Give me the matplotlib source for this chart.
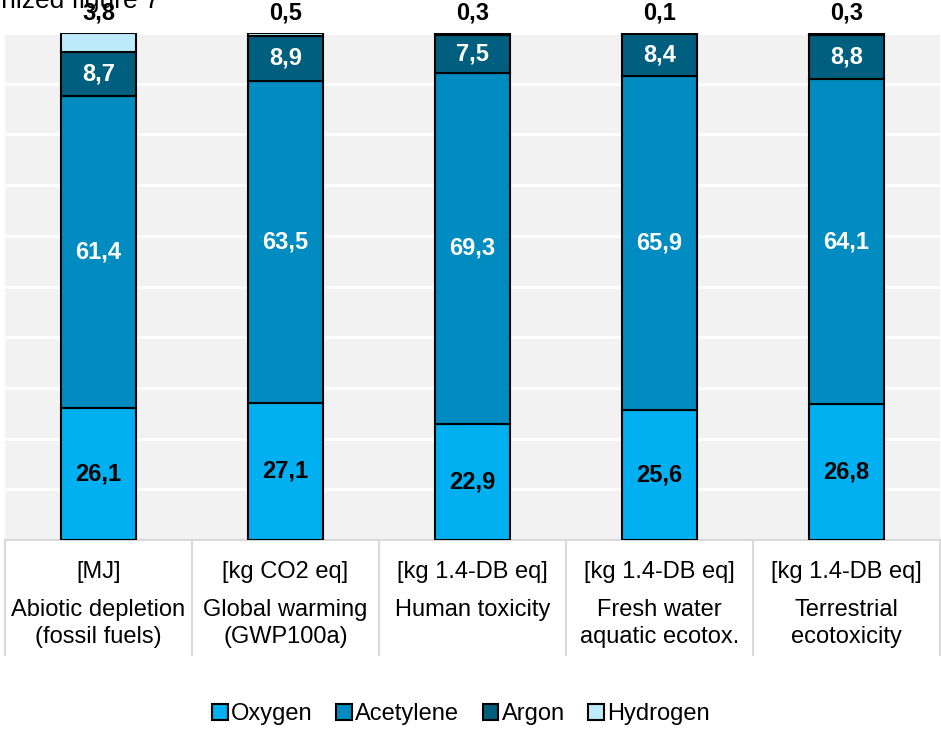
import numpy as np
import matplotlib.pyplot as plt

plt.rcParams['font.family'] = ['Liberation Sans', 'DejaVu Sans']

units = ['[MJ]', '[kg CO2 eq]', '[kg 1.4-DB eq]', '[kg 1.4-DB eq]', '[kg 1.4-DB eq]']
categories = ['Abiotic depletion\n(fossil fuels)', 'Global warming\n(GWP100a)',
              'Human toxicity', 'Fresh water\naquatic ecotox.', 'Terrestrial\necotoxicity']
oxygen = [26.1, 27.1, 22.9, 25.6, 26.8]
acetylene = [61.4, 63.5, 69.3, 65.9, 64.1]
argon = [8.7, 8.9, 7.5, 8.4, 8.8]
hydrogen = [3.8, 0.5, 0.3, 0.1, 0.3]

series = [('Oxygen', oxygen, '#00B0F0', 'black'),
          ('Acetylene', acetylene, '#008CC0', 'white'),
          ('Argon', argon, '#005F7E', 'white'),
          ('Hydrogen', hydrogen, '#BDEBFA', None)]

fig = plt.figure(figsize=(9.41, 7.33), dpi=100)
ax = fig.add_axes([5 / 941, 1 - 540 / 733, 935 / 941, 507 / 733])
ax.set_facecolor('#F2F2F2')

x = np.arange(len(categories))
bottom = np.zeros(len(categories))
for name, vals, col, tcol in series:
    vals = np.array(vals)
    ax.bar(x, vals, 0.4, bottom=bottom, color=col, edgecolor='black',
           linewidth=1.5, label=name, zorder=3)
    for i, v in enumerate(vals):
        if tcol is None:
            ax.text(x[i], 104, f'{v:.1f}'.replace('.', ','), ha='center',
                    va='center', fontsize=17, fontweight='bold', color='black',
                    clip_on=False)
        else:
            ax.text(x[i], bottom[i] + v / 2, f'{v:.1f}'.replace('.', ','),
                    ha='center', va='center', fontsize=17, fontweight='bold',
                    color=tcol, zorder=4)
    bottom += vals

ax.set_xlim(-0.5, len(categories) - 0.5)
ax.set_ylim(0, 100)
ax.set_yticks(np.arange(0, 101, 10))
ax.yaxis.grid(True, color='white', linewidth=2, zorder=0)
ax.set_axisbelow(True)
ax.tick_params(left=False, bottom=False, labelleft=False, labelbottom=False)
for s in ax.spines.values():
    s.set_visible(False)

# table below the axis
trans = ax.get_xaxis_transform()
tab_h = (655 - 540) / 507
for k in range(len(categories) + 1):
    ax.plot([k - 0.5, k - 0.5], [0, -tab_h], transform=trans, color='#D9D9D9',
            linewidth=1.5, clip_on=False)
ax.plot([-0.5, len(categories) - 0.5], [0, 0], transform=trans, color='#D9D9D9',
        linewidth=1.5, clip_on=False)
for i in range(len(categories)):
    ax.text(x[i], -(572 - 540) / 507, units[i], transform=trans, ha='center',
            va='center', fontsize=17)
    ax.text(x[i], -(599 - 540) / 507, categories[i], transform=trans, ha='center',
            va='top', fontsize=17, linespacing=1.3)

fig.text(160 / 941, 1 - 8 / 733, 'Harmonized figure 7', ha='right', va='baseline',
         fontsize=19)

ax.legend(loc='center', bbox_to_anchor=(0.49, (733 - 714) / 733), bbox_transform=fig.transFigure,
          ncol=4, frameon=False, fontsize=17, handlelength=0.65, handleheight=0.65,
          handletextpad=0.15, columnspacing=1.0)

fig.savefig('out.png', dpi=100)
